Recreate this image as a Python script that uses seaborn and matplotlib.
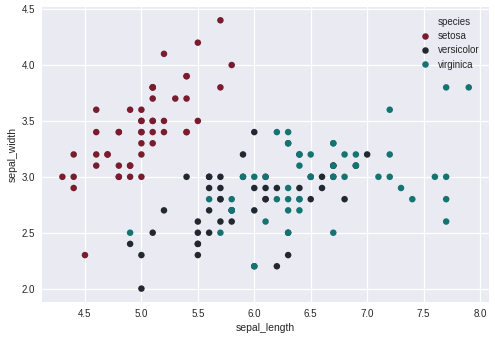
import matplotlib
matplotlib.use("Agg")
import matplotlib.pyplot as plt
from matplotlib.lines import Line2D
import pandas as pd
import seaborn as sns

species_names = ["setosa", "versicolor", "virginica"]

setosa_length = [5.1, 4.9, 4.7, 4.6, 5.0, 5.4, 4.6, 5.0, 4.4, 4.9, 5.4, 4.8, 4.8, 4.3, 5.8, 5.7, 5.4,
                 5.1, 5.7, 5.1, 5.4, 5.1, 4.6, 5.1, 4.8, 5.0, 5.0, 5.2, 5.2, 4.7, 4.8, 5.4, 5.2, 5.5,
                 4.9, 5.0, 5.5, 4.9, 4.4, 5.1, 5.0, 4.5, 4.4, 5.0, 5.1, 4.8, 5.1, 4.6, 5.3, 5.0]
setosa_width = [3.5, 3.0, 3.2, 3.1, 3.6, 3.9, 3.4, 3.4, 2.9, 3.1, 3.7, 3.4, 3.0, 3.0, 4.0, 4.4, 3.9,
                3.5, 3.8, 3.8, 3.4, 3.7, 3.6, 3.3, 3.4, 3.0, 3.4, 3.5, 3.4, 3.2, 3.1, 3.4, 4.1, 4.2,
                3.1, 3.2, 3.5, 3.6, 3.0, 3.4, 3.5, 2.3, 3.2, 3.5, 3.8, 3.0, 3.8, 3.2, 3.7, 3.3]

versicolor_length = [7.0, 6.4, 6.9, 5.5, 6.5, 5.7, 6.3, 4.9, 6.6, 5.2, 5.0, 5.9, 6.0, 6.1, 5.6, 6.7,
                     5.6, 5.8, 6.2, 5.6, 5.9, 6.1, 6.3, 6.1, 6.4, 6.6, 6.8, 6.7, 6.0, 5.7, 5.5, 5.5,
                     5.8, 6.0, 5.4, 6.0, 6.7, 6.3, 5.6, 5.5, 5.5, 6.1, 5.8, 5.0, 5.6, 5.7, 5.7, 6.2,
                     5.1, 5.7]
versicolor_width = [3.2, 3.2, 3.1, 2.3, 2.8, 2.8, 3.3, 2.4, 2.9, 2.7, 2.0, 3.0, 2.2, 2.9, 2.9, 3.1,
                    3.0, 2.7, 2.2, 2.5, 3.2, 2.8, 2.5, 2.8, 2.9, 3.0, 2.8, 3.0, 2.9, 2.6, 2.4, 2.4,
                    2.7, 2.7, 3.0, 3.4, 3.1, 2.3, 3.0, 2.5, 2.6, 3.0, 2.6, 2.3, 2.7, 3.0, 2.9, 2.9,
                    2.5, 2.8]

virginica_length = [6.3, 5.8, 7.1, 6.3, 6.5, 7.6, 4.9, 7.3, 6.7, 7.2, 6.5, 6.4, 6.8, 5.7, 5.8, 6.4,
                    6.5, 7.7, 7.7, 6.0, 6.9, 5.6, 7.7, 6.3, 6.7, 7.2, 6.2, 6.1, 6.4, 7.2, 7.4, 7.9,
                    6.4, 6.3, 6.1, 7.7, 6.3, 6.4, 6.0, 6.9, 6.7, 6.9, 5.8, 6.8, 6.7, 6.7, 6.3, 6.5,
                    6.2, 5.9]
virginica_width = [3.3, 2.7, 3.0, 2.9, 3.0, 3.0, 2.5, 2.9, 2.5, 3.6, 3.2, 2.7, 3.0, 2.5, 2.8, 3.2,
                   3.0, 3.8, 2.6, 2.2, 3.2, 2.8, 2.8, 2.7, 3.3, 3.2, 2.8, 3.0, 2.8, 3.0, 2.8, 3.8,
                   2.8, 2.8, 2.6, 3.0, 3.4, 3.1, 3.0, 3.1, 3.1, 3.1, 2.7, 3.2, 3.3, 3.0, 2.5, 3.0,
                   3.4, 3.0]

palette = {"setosa": "#781c2e", "versicolor": "#22282f", "virginica": "#137472"}

df = pd.DataFrame({
    "sepal_length": setosa_length + versicolor_length + virginica_length,
    "sepal_width": setosa_width + versicolor_width + virginica_width,
    "species": ["setosa"] * len(setosa_length)
               + ["versicolor"] * len(versicolor_length)
               + ["virginica"] * len(virginica_length),
})

sns.set_theme(style="darkgrid", rc={
    "axes.facecolor": "#eaeaf2",
    "grid.color": "white",
    "grid.linewidth": 0.9,
    "axes.labelcolor": "#262626",
    "xtick.color": "#262626",
    "ytick.color": "#262626",
})
plt.rcParams["font.family"] = ["Liberation Sans", "DejaVu Sans"]

fig = plt.figure(figsize=(4.95, 3.44), dpi=100)
ax = fig.add_axes([0.085, 0.122, 0.903, 0.858])

sns.scatterplot(data=df, x="sepal_length", y="sepal_width", hue="species",
                hue_order=species_names, palette=palette, s=22, linewidth=0, ax=ax)

ax.set_xticks([4.5, 5.0, 5.5, 6.0, 6.5, 7.0, 7.5, 8.0])
ax.set_yticks([2.0, 2.5, 3.0, 3.5, 4.0, 4.5])
ax.tick_params(labelsize=7, length=0, pad=5)
ax.set_xlabel("sepal_length", fontsize=7.5, labelpad=3)
ax.set_ylabel("sepal_width", fontsize=7.5, labelpad=3)
for sp in ax.spines.values():
    sp.set_visible(False)

handles, labels = ax.get_legend_handles_labels()
blank = Line2D([], [], linestyle="none", marker="none")
ax.legend([blank] + handles, ["species"] + labels, loc="upper right", frameon=False,
          fontsize=7, handletextpad=0.3, borderaxespad=0.6, labelspacing=0.45,
          markerscale=1.0)

fig.savefig("out.png", dpi=100)
